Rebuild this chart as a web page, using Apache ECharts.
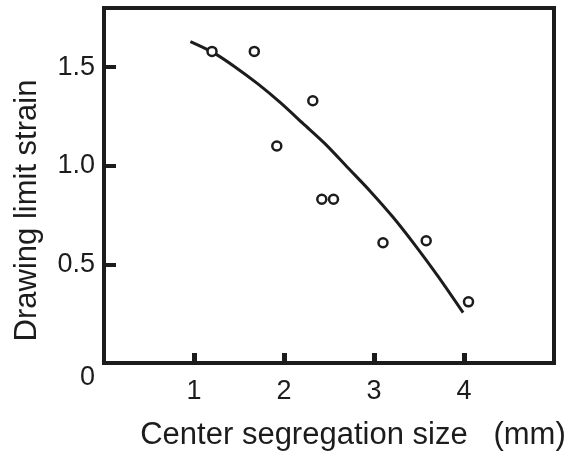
<!DOCTYPE html>
<html>
<head>
<meta charset="utf-8">
<script src="https://cdn.jsdelivr.net/npm/echarts@6/dist/echarts.min.js"></script>
<style>
html,body{margin:0;padding:0;background:#fff;}
#chart{width:569px;height:456px;}
</style>
</head>
<body>
<div id="chart"></div>
<script>
// Measured data points (Center segregation size mm, Drawing limit strain)
const pointX = [1.20, 1.67, 1.92, 2.32, 2.42, 2.55, 3.10, 3.58, 4.05];
const pointY = [1.58, 1.58, 1.10, 1.33, 0.83, 0.83, 0.61, 0.62, 0.31];
// Hand-drawn fit curve
const curveX = [0.96, 1.21, 1.46, 1.71, 1.96, 2.21, 2.46, 2.71, 2.96, 3.21, 3.46, 3.71, 3.99];
const curveY = [1.63, 1.575, 1.50, 1.415, 1.32, 1.215, 1.11, 0.99, 0.87, 0.74, 0.595, 0.44, 0.255];
// Axis ticks and labels
const xTickValues = [1, 2, 3, 4];
const yTickValues = [0.5, 1.0, 1.5];
const yLabelValues = [0, 0.5, 1.0, 1.5];
const xAxisTitle = 'Center segregation size   (mm)';
const yAxisTitle = 'Drawing limit strain';

const ink = '#1c1c1c';
const font = '"Liberation Sans", Arial, sans-serif';

const chart = echarts.init(document.getElementById('chart'), null, {renderer: 'canvas'});
chart.setOption({
  animation: false,
  backgroundColor: '#fff',
  grid: {
    left: 104, right: 15, top: 8, bottom: 92,
    show: true, borderColor: ink, borderWidth: 4, backgroundColor: 'transparent'
  },
  xAxis: {
    type: 'value', min: 0, max: 5,
    axisLine: {show: false},
    splitLine: {show: false},
    axisTick: {show: true, inside: true, length: 10, customValues: xTickValues,
      lineStyle: {color: ink, width: 5}},
    axisLabel: {customValues: xTickValues, margin: 15, color: ink, fontSize: 27, fontFamily: font},
    name: xAxisTitle, nameLocation: 'middle', nameGap: 57,
    nameTextStyle: {color: ink, fontSize: 31, fontFamily: font, padding: [0, 0, 0, 48]}
  },
  yAxis: {
    type: 'value', min: 0, max: 1.8,
    axisLine: {show: false},
    splitLine: {show: false},
    axisTick: {show: true, inside: true, length: 12, customValues: yTickValues,
      lineStyle: {color: ink, width: 4}},
    axisLabel: {
      customValues: yLabelValues, margin: 9, color: ink, fontSize: 27, fontFamily: font,
      formatter: function (v) { return v === 0 ? '{z|0}' : v.toFixed(1); },
      rich: {z: {color: ink, fontSize: 27, fontFamily: font, padding: [30, 0, 0, 0]}}
    },
    name: yAxisTitle, nameLocation: 'middle', nameGap: 61,
    nameTextStyle: {color: ink, fontSize: 31, fontFamily: font, padding: [0, 50, 0, 0]}
  },
  series: [
    {
      type: 'line',
      data: curveX.map((x, i) => [x, curveY[i]]),
      smooth: 0.3,
      showSymbol: false,
      lineStyle: {color: ink, width: 3},
      z: 2
    },
    {
      type: 'scatter',
      data: pointX.map((x, i) => [x, pointY[i]]),
      symbol: 'circle',
      symbolSize: 9,
      itemStyle: {color: '#fff', borderColor: ink, borderWidth: 2.5, opacity: 1},
      z: 3
    }
  ]
});
</script>
</body>
</html>
